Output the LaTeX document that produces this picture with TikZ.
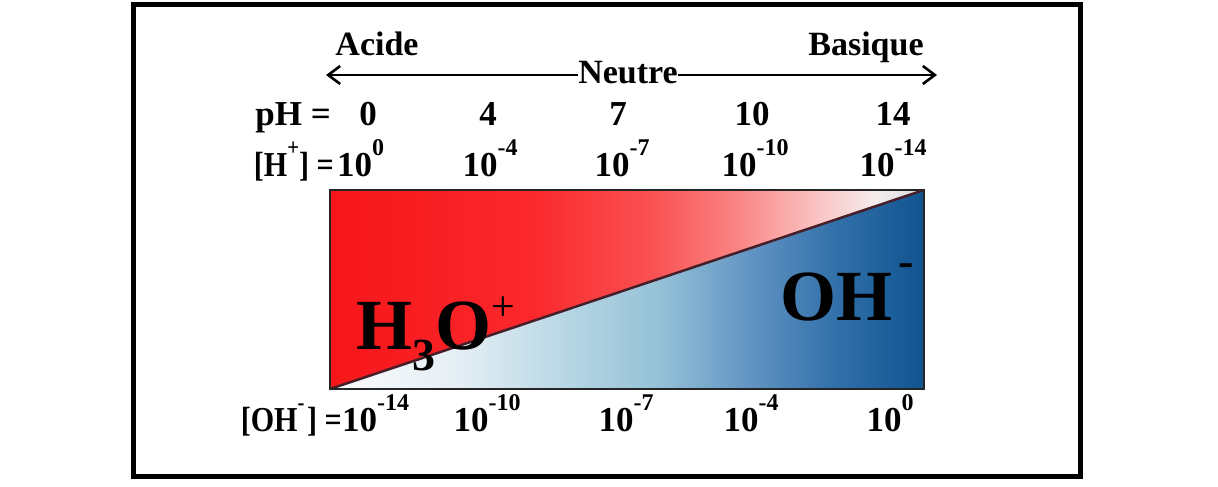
\documentclass[tikz,border=0pt]{standalone}
\usepackage{fontspec}
\setmainfont{Liberation Serif}
\usetikzlibrary{arrows.meta}
\definecolor{r0}{RGB}{246,22,26}
\definecolor{r1}{RGB}{250,40,44}
\definecolor{r2}{RGB}{250,80,82}
\definecolor{r3}{RGB}{250,130,130}
\definecolor{r4}{RGB}{250,195,195}
\definecolor{r5}{RGB}{244,236,236}
\definecolor{r6}{RGB}{212,218,224}
\definecolor{b0}{RGB}{252,252,253}
\definecolor{b1}{RGB}{228,238,244}
\definecolor{b2}{RGB}{182,214,228}
\definecolor{b3}{RGB}{150,194,215}
\definecolor{b4}{RGB}{100,150,196}
\definecolor{b5}{RGB}{50,112,170}
\definecolor{b6}{RGB}{16,84,144}
\definecolor{diagc}{RGB}{70,30,40}
\pgfdeclarehorizontalshading{redsh}{100bp}{color(0bp)=(r0); color(25bp)=(r0); color(42bp)=(r1); color(52bp)=(r2); color(59bp)=(r3); color(66bp)=(r4); color(71bp)=(r5); color(75bp)=(r6); color(100bp)=(r6)}
\pgfdeclarehorizontalshading{bluesh}{100bp}{color(0bp)=(b0); color(25bp)=(b0); color(36bp)=(b1); color(45bp)=(b2); color(52.5bp)=(b3); color(60bp)=(b4); color(67.5bp)=(b5); color(75bp)=(b6); color(100bp)=(b6)}
\newcommand\ex[1]{\raisebox{0.58em}{\fontsize{24}{24}\selectfont #1}}
\newcommand\narrow[1]{\scalebox{0.86}[1]{#1}}
\tikzset{
  lbl/.style={font=\fontsize{35}{36}\selectfont\bfseries, anchor=base, inner sep=0pt},
  big/.style={font=\fontsize{34}{36}\selectfont\bfseries, anchor=base, inner sep=0pt},
  ion/.style={font=\fontsize{72}{74}\selectfont\bfseries, anchor=base west, inner sep=0pt},
  scalearrow/.style={line width=2.8pt, -{Straight Barb[length=12pt,width=18pt,line width=2.6pt]}},
  frame/.style={line width=5pt},
  boxline/.style={line width=2.5pt, black!85},
  diag/.style={line width=2.5pt, diagc}
}
\begin{document}
\begin{tikzpicture}[x=1pt,y=-1pt]
\useasboundingbox (0,0) rectangle (1218,487);
\draw[frame] (133,5) rectangle (1080,476);
% box
\coordinate (tl) at (330,190);
\coordinate (br) at (924,389);
\coordinate (bl) at (330,389);
\coordinate (tr) at (924,190);
\begin{scope}
  \clip (bl) -- (tl) -- (tr) -- cycle;
  \fill[shading=redsh] (tl) rectangle (br);
\end{scope}
\begin{scope}
  \clip (bl) -- (br) -- (tr) -- cycle;
  \fill[shading=bluesh] (tl) rectangle (br);
\end{scope}
\draw[diag] (bl) -- (tr);
\draw[boxline] (tl) rectangle (br);
% top labels
\node[big] (acide) at (377,56) {Acide};
\node[big] (basique) at (866,56) {Basique};
\node[big] (neutre) at (628,84) {Neutre};
\coordinate (lt) at (326,75);
\coordinate (rt) at (937,75);
\draw[scalearrow] (neutre.west |- lt) -- (lt);
\draw[scalearrow] (neutre.east |- rt) -- (rt);
% pH row
\node[lbl, anchor=base east] (phl) at (331,125) {pH =};
\node[lbl] (ph0) at (368,125) {0};
\node[lbl] (ph4) at (488,125) {4};
\node[lbl] (ph7) at (618,125) {7};
\node[lbl] (ph10) at (752,125) {10};
\node[lbl] (ph14) at (893,125) {14};
% H+ row
\node[lbl, anchor=base east] (hl) at (334,176) {\narrow{[H\ex{+}] =}};
\node[lbl, anchor=base west] (h0) at (337,176) {10\ex{0}};
\node[lbl] (h4) at (490,176) {10\ex{-4}};
\node[lbl] (h7) at (622,176) {10\ex{-7}};
\node[lbl] (h10) at (755,176) {10\ex{-10}};
\node[lbl] (h14) at (893,176) {10\ex{-14}};
% OH- row
\node[lbl, anchor=base east] (ohl) at (342,431) {\narrow{[OH\ex{-}\kern3pt] =}};
\node[lbl, anchor=base west] (o14) at (342,431) {10\ex{-14}};
\node[lbl] (o10) at (487,431) {10\ex{-10}};
\node[lbl] (o7) at (626,431) {10\ex{-7}};
\node[lbl] (o4) at (751,431) {10\ex{-4}};
\node[lbl] (o0) at (890,431) {10\ex{0}};
% ions
\node[ion] (h3o) at (356,349) {H\raisebox{-0.3em}{\fontsize{46}{46}\selectfont 3}O\raisebox{0.4em}{\fontsize{42}{42}\selectfont\mdseries +}};
\node[ion] (oh) at (780,320) {OH\kern6pt\raisebox{0.6em}{\fontsize{46}{46}\selectfont\textbf{-}}};
\end{tikzpicture}
\end{document}
